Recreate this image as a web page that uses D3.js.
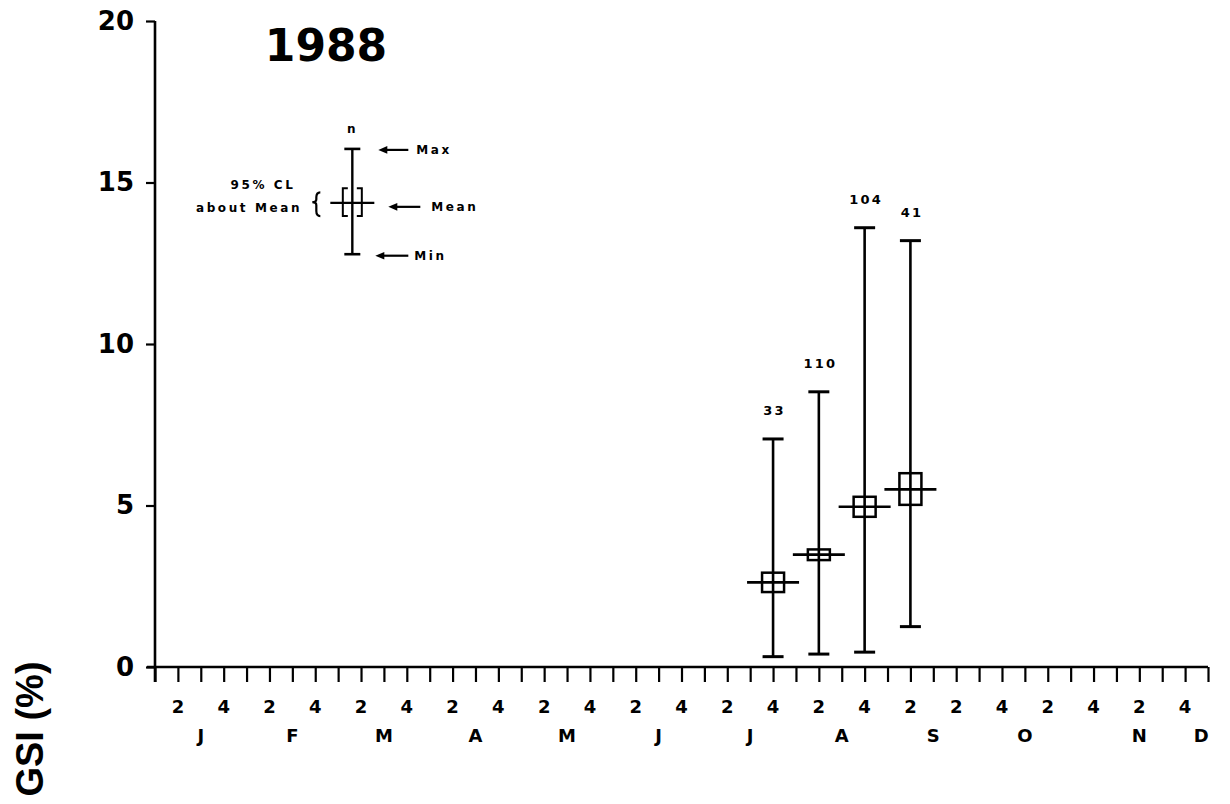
<!DOCTYPE html>
<html><head><meta charset="utf-8">
<script src="https://cdn.jsdelivr.net/npm/d3@7"></script>
<style>html,body{margin:0;padding:0;background:#fff;} svg{display:block;}</style>
</head><body>
<svg id="chart" width="1230" height="804"></svg>
<script>
// ---- data ----
const weeks = [27, 29, 31, 33];            // week index along the axis (4 ticks per month)
const nLabels = ["33", "110", "104", "41"];
const maxVals = [7.06, 8.52, 13.60, 13.20];
const minVals = [0.32, 0.40, 0.46, 1.25];
const meanVals = [2.62, 3.48, 4.96, 5.50];
const ciLow = [2.32, 3.31, 4.65, 5.02];
const ciHigh = [2.92, 3.64, 5.27, 6.00];

const yTicks = [0, 5, 10, 15, 20];
const weekTickLabels = ["2","4","2","4","2","4","2","4","2","4","2","4","2","4","2","4","2","2","4","2","4","2","4"];
const weekTickLabelPos = [1,3,5,7,9,11,13,15,17,19,21,23,25,27,29,31,33,35,37,39,41,43,45];
const monthLabels = ["J","F","M","A","M","J","J","A","S","O","N","D"];
const monthLabelPos = [2,6,10,14,18,22,26,30,34,38,43,45.7];

// legend sample glyph
const legendWeek = 8.62;
const legendMax = 16.04, legendMin = 12.78, legendMean = 14.37, legendCiLow = 13.96, legendCiHigh = 14.82;

// ---- drawing ----
const svg = d3.select("#chart");
svg.append("rect").attr("width", 1230).attr("height", 804).attr("fill", "#fff");

const x = d3.scaleLinear().domain([0, 46]).range([155, 1208]);
const y = d3.scaleLinear().domain([0, 20]).range([667, 21]);

const boldWide = "'DejaVu Sans', sans-serif";

// x axis
const xAxis = d3.axisBottom(x).tickValues(d3.range(0, 47)).tickSize(15).tickSizeOuter(0).tickFormat("");
const gx = svg.append("g").attr("transform", `translate(0,${y(0)})`).call(xAxis);
gx.select(".domain").attr("stroke", "#000").attr("stroke-width", 2.6).attr("d", `M${x(0)-8},0H${x(46)}`);
gx.selectAll(".tick line").attr("stroke", "#000").attr("stroke-width", 2.2);

// y axis
const yAxis = d3.axisLeft(y).tickValues(yTicks).tickSize(9).tickSizeOuter(0).tickPadding(12).tickFormat(d3.format("d"));
const gy = svg.append("g").attr("transform", `translate(${x(0)},0)`).call(yAxis);
gy.select(".domain").attr("stroke", "#000").attr("stroke-width", 2.6).attr("d", `M0,${y(20)}V${y(0)+15}`);
gy.selectAll(".tick line").attr("stroke", "#000").attr("stroke-width", 2.2);
gy.selectAll(".tick text").attr("font-family", boldWide).attr("font-weight", "bold").attr("font-size", 26).attr("fill", "#000");

// week labels
svg.append("g").selectAll("text").data(weekTickLabels).join("text")
  .attr("x", (d, i) => x(weekTickLabelPos[i]))
  .attr("y", 713)
  .attr("text-anchor", "middle")
  .attr("font-family", boldWide).attr("font-weight", "bold").attr("font-size", 18)
  .text(d => d);

// month labels
svg.append("g").selectAll("text").data(monthLabels).join("text")
  .attr("x", (d, i) => x(monthLabelPos[i]))
  .attr("y", 742)
  .attr("text-anchor", "middle")
  .attr("font-family", boldWide).attr("font-weight", "bold").attr("font-size", 18)
  .text(d => d);

// y axis title
svg.append("text")
  .attr("transform", "translate(43,729) rotate(-90)")
  .attr("text-anchor", "middle")
  .attr("font-family", "'Liberation Sans', Arial, sans-serif").attr("font-weight", "bold").attr("font-size", 38)
  .text("GSI (%)");

// title
svg.append("text")
  .attr("x", 326).attr("y", 61)
  .attr("text-anchor", "middle")
  .attr("font-family", boldWide).attr("font-weight", "bold").attr("font-size", 44)
  .text("1988");

// data glyphs
const pts = weeks.map((w, i) => ({w, n: nLabels[i], max: maxVals[i], min: minVals[i], mean: meanVals[i], lo: ciLow[i], hi: ciHigh[i]}));
const g = svg.append("g").attr("stroke", "#000").attr("fill", "none");
const glyph = g.selectAll("g").data(pts).join("g");
glyph.append("line").attr("x1", d => x(d.w)).attr("x2", d => x(d.w)).attr("y1", d => y(d.max)).attr("y2", d => y(d.min)).attr("stroke-width", 2.6);
glyph.append("line").attr("x1", d => x(d.w) - 10.5).attr("x2", d => x(d.w) + 10.5).attr("y1", d => y(d.max)).attr("y2", d => y(d.max)).attr("stroke-width", 3);
glyph.append("line").attr("x1", d => x(d.w) - 10.5).attr("x2", d => x(d.w) + 10.5).attr("y1", d => y(d.min)).attr("y2", d => y(d.min)).attr("stroke-width", 3);
glyph.append("rect").attr("x", d => x(d.w) - 11).attr("width", 22).attr("y", d => y(d.hi)).attr("height", d => y(d.lo) - y(d.hi)).attr("stroke-width", 2.5);
glyph.append("line").attr("x1", d => x(d.w) - 26).attr("x2", d => x(d.w) + 26).attr("y1", d => y(d.mean)).attr("y2", d => y(d.mean)).attr("stroke-width", 2.6);
svg.append("g").selectAll("text").data(pts).join("text")
  .attr("x", d => x(d.w) + 1.5).attr("y", d => y(d.max) - 24)
  .attr("text-anchor", "middle")
  .attr("font-family", boldWide).attr("font-weight", "bold").attr("font-size", 13).attr("letter-spacing", 2.2)
  .text(d => d.n);

// legend glyph
const lx = x(legendWeek);
const lg = svg.append("g").attr("stroke", "#000").attr("fill", "none");
lg.append("line").attr("x1", lx).attr("x2", lx).attr("y1", y(legendMax)).attr("y2", y(legendMin)).attr("stroke-width", 2.4);
lg.append("line").attr("x1", lx - 8).attr("x2", lx + 8).attr("y1", y(legendMax)).attr("y2", y(legendMax)).attr("stroke-width", 2.6);
lg.append("line").attr("x1", lx - 8).attr("x2", lx + 8).attr("y1", y(legendMin)).attr("y2", y(legendMin)).attr("stroke-width", 2.6);
lg.append("line").attr("x1", lx - 22).attr("x2", lx + 22).attr("y1", y(legendMean)).attr("y2", y(legendMean)).attr("stroke-width", 2.2);
const bx0 = lx - 9.5, bx1 = lx + 9.5, by0 = y(legendCiHigh), by1 = y(legendCiLow);
lg.append("path").attr("stroke-width", 2).attr("d", `M${bx0+5},${by0}H${bx0}V${by1}H${bx0+5}M${bx1-5},${by0}H${bx1}V${by1}H${bx1-5}`);
// brace
const bcy = (by0 + by1) / 2;
lg.append("path").attr("stroke-width", 2.2)
  .attr("d", `M${lx-32},${by0+4} Q${lx-36},${by0+4} ${lx-36},${by0+9} L${lx-36},${bcy-3} Q${lx-36},${bcy} ${lx-40},${bcy} Q${lx-36},${bcy} ${lx-36},${bcy+3} L${lx-36},${by1-5} Q${lx-36},${by1} ${lx-32},${by1}`);

// arrows
const arrows = [
  {yv: legendMax, dy: 1, x0: 26, x1: 56, tx: 64, label: "Max"},
  {yv: legendMean, dy: 4, x0: 36, x1: 68, tx: 79, label: "Mean"},
  {yv: legendMin, dy: 1.5, x0: 23, x1: 56, tx: 62, label: "Min"}
];
arrows.forEach(a => {
  const ay = y(a.yv) + a.dy;
  lg.append("line").attr("x1", lx + a.x0 + 6).attr("x2", lx + a.x1).attr("y1", ay).attr("y2", ay).attr("stroke-width", 2.2);
  svg.append("path").attr("fill", "#000").attr("d", `M${lx + a.x0},${ay} L${lx + a.x0 + 9},${ay - 3.8} L${lx + a.x0 + 9},${ay + 3.8} Z`);
  svg.append("text").attr("x", lx + a.tx).attr("y", ay + 4.5)
    .attr("font-family", boldWide).attr("font-weight", "bold").attr("font-size", 12).attr("letter-spacing", 2.6)
    .text(a.label);
});
svg.append("text").attr("x", lx - 1).attr("y", 133).attr("text-anchor", "middle")
  .attr("font-family", boldWide).attr("font-weight", "bold").attr("font-size", 12).text("n");
svg.append("text").attr("x", 263).attr("y", 188.5).attr("text-anchor", "middle")
  .attr("font-family", boldWide).attr("font-weight", "bold").attr("font-size", 12).attr("letter-spacing", 2.6)
  .text("95% CL");
svg.append("text").attr("x", 249).attr("y", 212).attr("text-anchor", "middle")
  .attr("font-family", boldWide).attr("font-weight", "bold").attr("font-size", 12).attr("letter-spacing", 2.6)
  .text("about Mean");
</script>
</body></html>
